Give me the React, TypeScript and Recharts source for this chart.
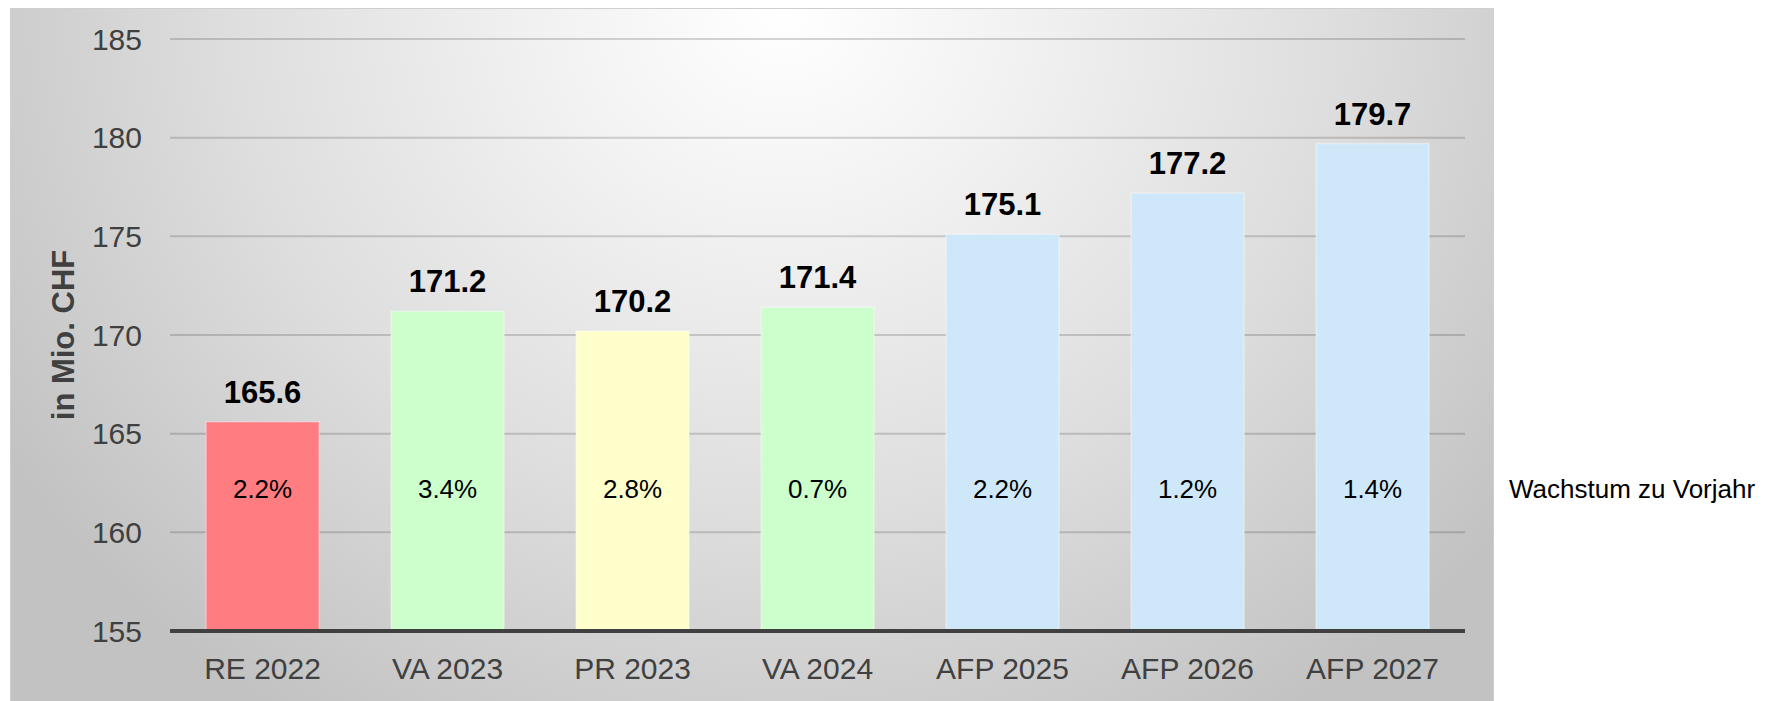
import { BarChart, Bar, XAxis, YAxis, CartesianGrid, Cell, LabelList } from "recharts";

const categories = ["RE 2022", "VA 2023", "PR 2023", "VA 2024", "AFP 2025", "AFP 2026", "AFP 2027"];
const values = [165.6, 171.2, 170.2, 171.4, 175.1, 177.2, 179.7];
const growth = ["2.2%", "3.4%", "2.8%", "0.7%", "2.2%", "1.2%", "1.4%"];
const barColors = ["#FF7C80", "#CCFFCC", "#FFFFCC", "#CCFFCC", "#CFE8F9", "#CFE8F9", "#CFE8F9"];
const yTicks = [155, 160, 165, 170, 175, 180, 185];

const FONT = "'Liberation Sans', Arial, sans-serif";

const data = categories.map((name, i) => ({ name, value: values[i], growth: growth[i] }));

function ValueLabel(props: any) {
    const { x, y, width, value } = props;
    return (
        <text
            x={x + width / 2}
            y={y - 19}
            textAnchor="middle"
            fontFamily={FONT}
            fontSize={31}
            fontWeight="bold"
            fill="#000"
        >
            {Number(value).toFixed(1)}
        </text>
    );
}

function GrowthLabel(props: any) {
    const { x, y, width, height, value } = props;
    // sits at a fixed distance above the axis line
    const bottom = y + height;
    return (
        <text
            x={x + width / 2}
            y={bottom - 142}
            dy={9}
            textAnchor="middle"
            fontFamily={FONT}
            fontSize={26}
            fill="#000"
        >
            {value}
        </text>
    );
}

function YTitle(props: any) {
    const { viewBox } = props;
    const cy = viewBox.y + viewBox.height / 2;
    return (
        <text
            x={63}
            y={cy}
            transform={`rotate(-90, 63, ${cy})`}
            textAnchor="middle"
            dominantBaseline="central"
            fontFamily={FONT}
            fontSize={31}
            fontWeight="bold"
            fill="#404040"
        >
            in Mio. CHF
        </text>
    );
}

export default function App() {
    return (
        <div
            style={{
                position: "fixed",
                left: 0,
                top: 0,
                width: 1780,
                height: 701,
                overflow: "hidden",
                background: "#fff",
                fontFamily: FONT,
            }}
        >
            <div
                style={{
                    position: "absolute",
                    left: 10,
                    top: 8,
                    width: 1482,
                    height: 700,
                    border: "1px solid #cfcfcf",
                    background:
                        "radial-gradient(ellipse 62% 120% at 52% 0%, #ffffff 0%, #f2f2f2 25%, #dedede 60%, #c2c2c2 100%)",
                }}
            />
            <div
                style={{
                    position: "absolute",
                    left: 1509,
                    top: 476,
                    fontSize: 26,
                    lineHeight: "26px",
                    color: "#000",
                    whiteSpace: "nowrap",
                }}
            >
                Wachstum zu Vorjahr
            </div>
            <div style={{ position: "absolute", left: 0, top: 0 }}>
                <BarChart
                    width={1780}
                    height={701}
                    data={data}
                    margin={{ top: 39, right: 315, bottom: 20, left: 50 }}
                    barCategoryGap="19.5%"
                >
                    <CartesianGrid
                        vertical={false}
                        stroke="rgba(0,0,0,0.16)"
                        strokeWidth={2}
                    />
                    <XAxis
                        dataKey="name"
                        height={50}
                        tickLine={false}
                        tickMargin={21}
                        axisLine={{ stroke: "#404040", strokeWidth: 4 }}
                        tick={{ fill: "#404040", fontSize: 30, fontFamily: FONT }}
                    />
                    <YAxis
                        width={120}
                        domain={[155, 185]}
                        ticks={yTicks}
                        allowDataOverflow
                        axisLine={false}
                        tickLine={false}
                        tickMargin={22}
                        tick={{ fill: "#404040", fontSize: 30, fontFamily: FONT }}
                        label={<YTitle />}
                    />
                    <Bar
                        dataKey="value"
                        isAnimationActive={false}
                        stroke="rgba(255,255,255,0.35)"
                        strokeWidth={1.5}
                    >
                        {data.map((d, i) => (
                            <Cell key={d.name} fill={barColors[i]} />
                        ))}
                        <LabelList dataKey="value" content={<ValueLabel />} />
                        <LabelList dataKey="growth" content={<GrowthLabel />} />
                    </Bar>
                </BarChart>
            </div>
        </div>
    );
}
